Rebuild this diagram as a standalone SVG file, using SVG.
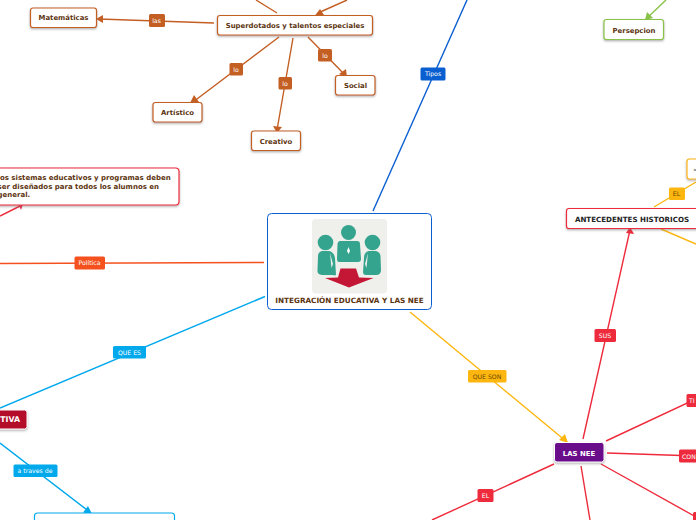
<svg xmlns="http://www.w3.org/2000/svg" width="696" height="520" viewBox="0 0 696 520">
<style>
text{font-family:"DejaVu Sans",Verdana,sans-serif}
.n{font-size:6.9px;font-weight:bold;fill:#5c3410;text-anchor:middle}
.l{font-size:6.2px;text-anchor:middle;fill:#fff}
.d{fill:#6b4a00}
.c{fill:none;stroke-width:1.4}
.o{stroke:#c45f24}.r{stroke:#ee2b3c}.y{stroke:#fdb60f}.b{stroke:#00a8ec}
.box{fill:#fff;stroke-width:1.2}
</style>
<defs>
<filter id="s" x="-10%" y="-20%" width="120%" height="150%"><feDropShadow dx="0" dy="1.2" stdDeviation=".8" flood-color="#666" flood-opacity=".55"/></filter>
</defs>
<rect width="696" height="520" fill="#fff"/>
<g id="connectors">
<path class="c o" d="M256 0L277 13M347 0L318 13"/>
<path class="c o" d="M214 23L99 19M279 37L193 102M293 38L277 130M308 37L345 75"/>
<path d="M96 19L103 15L103 23ZM315 15.500L320 9L324 15ZM190 103L194 95L199 102ZM277 133L273 126L282 127ZM347 78L339 74L346 69Z" fill="#c45f24"/>
<path class="c" stroke="#0a5fd0" d="M467 0L373 211"/>
<path class="c" stroke="#f4511e" d="M0 263.500L264 262.500"/>
<path class="c b" d="M265 296.500L0 408M0 443L91 513"/>
<path d="M92 514L83 512.500L88 506Z" fill="#00a8ec"/>
<path class="c y" d="M410 312L567 442"/>
<path d="M568 443L559 440L565 434Z" fill="#fdb60f"/>
<path class="c r" d="M0 216L20 206"/>
<path d="M23 204L18 203L21 210Z" fill="#ee2b3c"/>
<path class="c r" d="M583 439L630 230M606 441L696 399M607 453L696 456M601 464L696 517M581 466L590 520M554 464L432 520"/>
<path d="M630 227L634 234L626 233Z" fill="#ee2b3c"/>
<path class="c y" d="M654 207L696 182M661 229L696 244"/>
<path class="c" stroke="#8ac24a" d="M666 0L646 19"/>
<path d="M645 20L647 12L653 18Z" fill="#8ac24a"/>
</g>
<g id="lbl-conn">
<rect x="149" y="14" width="16" height="13" rx="1.500" fill="#c45f24"/><text class="l" x="156.500" y="23">las</text>
<rect x="229.500" y="63" width="13.500" height="12.500" rx="1.500" fill="#c45f24"/><text class="l" x="236" y="71.500">lo</text>
<rect x="278.500" y="77" width="13.500" height="12.500" rx="1.500" fill="#c45f24"/><text class="l" x="285" y="85.500">lo</text>
<rect x="318" y="49" width="14" height="12.500" rx="1.500" fill="#c45f24"/><text class="l" x="325" y="57.500">lo</text>
<rect x="420.500" y="67.500" width="25" height="13" rx="1.500" fill="#0a5fd0"/><text class="l" x="433" y="76.300">Tipos</text>
<rect x="74.500" y="256.500" width="30.500" height="13" rx="1.500" fill="#f4511e"/><text class="l" x="89.500" y="265.300">Política</text>
<rect x="113" y="346" width="33" height="12.500" rx="1.500" fill="#00a8ec"/><text class="l" x="129.500" y="354.500">QUE ES</text>
<rect x="13.500" y="464.500" width="44" height="12.500" rx="1.500" fill="#00a8ec"/><text class="l" x="35" y="473">a traves de</text>
<rect x="468" y="370" width="38.500" height="12.500" rx="1.500" fill="#fdb60f"/><text class="l d" style="fill:#6b4a00" x="487" y="379">QUE SON</text>
<rect x="594.500" y="329" width="21.500" height="13" rx="1.500" fill="#ee2b3c"/><text class="l" x="605" y="338">SUS</text>
<rect x="669" y="187.500" width="16" height="12.500" rx="1.500" fill="#fdb60f"/><text class="l" style="fill:#6b4a00" x="676.500" y="196.300">EL</text>
<rect x="686.500" y="394" width="12" height="13" rx="1.500" fill="#ee2b3c"/><text class="l" style="text-anchor:start" x="689" y="403">TI</text>
<rect x="679" y="449.500" width="20" height="13" rx="1.500" fill="#ee2b3c"/><text class="l" style="text-anchor:start" x="682" y="458.500">CON</text>
<rect x="693" y="512" width="6" height="10" rx="1.500" fill="#ee2b3c"/>
<rect x="477.500" y="489" width="16" height="13" rx="1.500" fill="#ee2b3c"/><text class="l" x="485.500" y="498">EL</text>
</g>
<g id="matematicas"><rect class="box o" x="30.500" y="8" width="66" height="19.500" rx="2.500" filter="url(#s)"/><text class="n" x="63.500" y="20">Matemáticas</text></g>
<g id="superdotados"><rect class="box o" x="217.500" y="15.500" width="155" height="19.500" rx="2.500" filter="url(#s)"/><text class="n" x="295" y="28">Superdotados y talentos especiales</text></g>
<g id="artistico"><rect class="box o" x="153" y="102.500" width="49" height="19.500" rx="2.500" filter="url(#s)"/><text class="n" x="177.500" y="115">Artístico</text></g>
<g id="creativo"><rect class="box o" x="251.500" y="131" width="49" height="19.500" rx="2.500" filter="url(#s)"/><text class="n" x="276" y="144">Creativo</text></g>
<g id="social"><rect class="box o" x="335.500" y="75.500" width="39.500" height="19.500" rx="2.500" filter="url(#s)"/><text class="n" x="355.500" y="88">Social</text></g>
<g id="sistemas"><rect class="box" stroke="#ee2b3c" x="-10" y="168" width="189" height="37" rx="3.500" filter="url(#s)"/>
<text class="n" style="text-anchor:start;font-size:7px" x="-2.500" y="180">los sistemas educativos y programas deben</text><text class="n" style="text-anchor:start;font-size:7px" x="-2.500" y="189">ser diseñados para todos los alumnos en</text><text class="n" style="text-anchor:start;font-size:7px" x="-2.500" y="197">general.</text></g>
<g id="central"><rect x="267.500" y="213.500" width="164" height="96" rx="4" fill="#fff" stroke="#0a5fd0" stroke-width="1"/>
<rect x="312" y="219" width="75" height="74.500" rx="4" fill="#eff0ec"/>
<g fill="#35a48e">
<circle cx="348.500" cy="232.500" r="7.500"/><circle cx="325.500" cy="242.500" r="7.800"/><circle cx="372.500" cy="242.500" r="7.800"/>
<path d="M340 241H357Q360 241 360 244L361 259Q361 262 358 262H339Q337 262 337 259L337.500 244Q338 241 340 241Z"/>
<path d="M322 251H329Q334 252 335 258L336 275Q336 275.500 332 275H322Q317 275 317.500 270L318 256Q318 252 322 251Z"/>
<path d="M369 251H376Q380 252 380.500 256L381 270Q381 275 376 275H366Q363 275 363 272L364 258Q364 252 369 251Z"/>
</g>
<path d="M348.500 247L350 251L348.500 254L347 251Z" fill="#fff"/>
<path d="M330 253L333 264L331.500 268ZM368 253L365 264L366.500 268Z" fill="#eff0ec"/>
<path d="M340.500 268.500H356L359 277.500L373.500 278L349 287.500L325 278L338 277.500Z" fill="#c41735"/>
<text class="n" style="font-size:7.250px" x="349.500" y="303">INTEGRACIÓN EDUCATIVA Y LAS NEE</text></g>
<g id="educativa"><rect x="-40" y="410" width="67" height="19" rx="2.500" fill="#b30c2c" stroke="#fff" filter="url(#s)"/><text class="n" style="fill:#fff;text-anchor:end;font-size:7.800px" x="20" y="422">TIVA</text></g>
<g id="bottom-left"><rect class="box" stroke="#00a8ec" x="34.500" y="513" width="140" height="20" rx="3"/></g>
<g id="lasnee"><rect x="554.500" y="442.500" width="49.500" height="19.500" rx="2.500" fill="#6a0a8a" stroke="#fff" filter="url(#s)"/><text class="n" style="fill:#fff" x="579" y="455.500">LAS NEE</text></g>
<g id="antecedentes"><rect class="box" stroke="#ee2b3c" x="566.500" y="208.500" width="132" height="20" rx="2.500" filter="url(#s)"/><text class="n" style="fill:#222;font-size:7.100px" x="632" y="221.500">ANTECEDENTES HISTORICOS</text></g>
<g id="top-right"><rect class="box y" x="687" y="159" width="30" height="20" rx="2.500" filter="url(#s)"/><text class="n" x="695" y="171.500" style="fill:#222">-</text></g>
<g id="persepcion"><rect class="box" stroke="#8ac24a" x="604" y="19.500" width="59.500" height="20" rx="2.500" filter="url(#s)"/><text class="n" x="634" y="32.500">Persepcion</text></g>
</svg>
